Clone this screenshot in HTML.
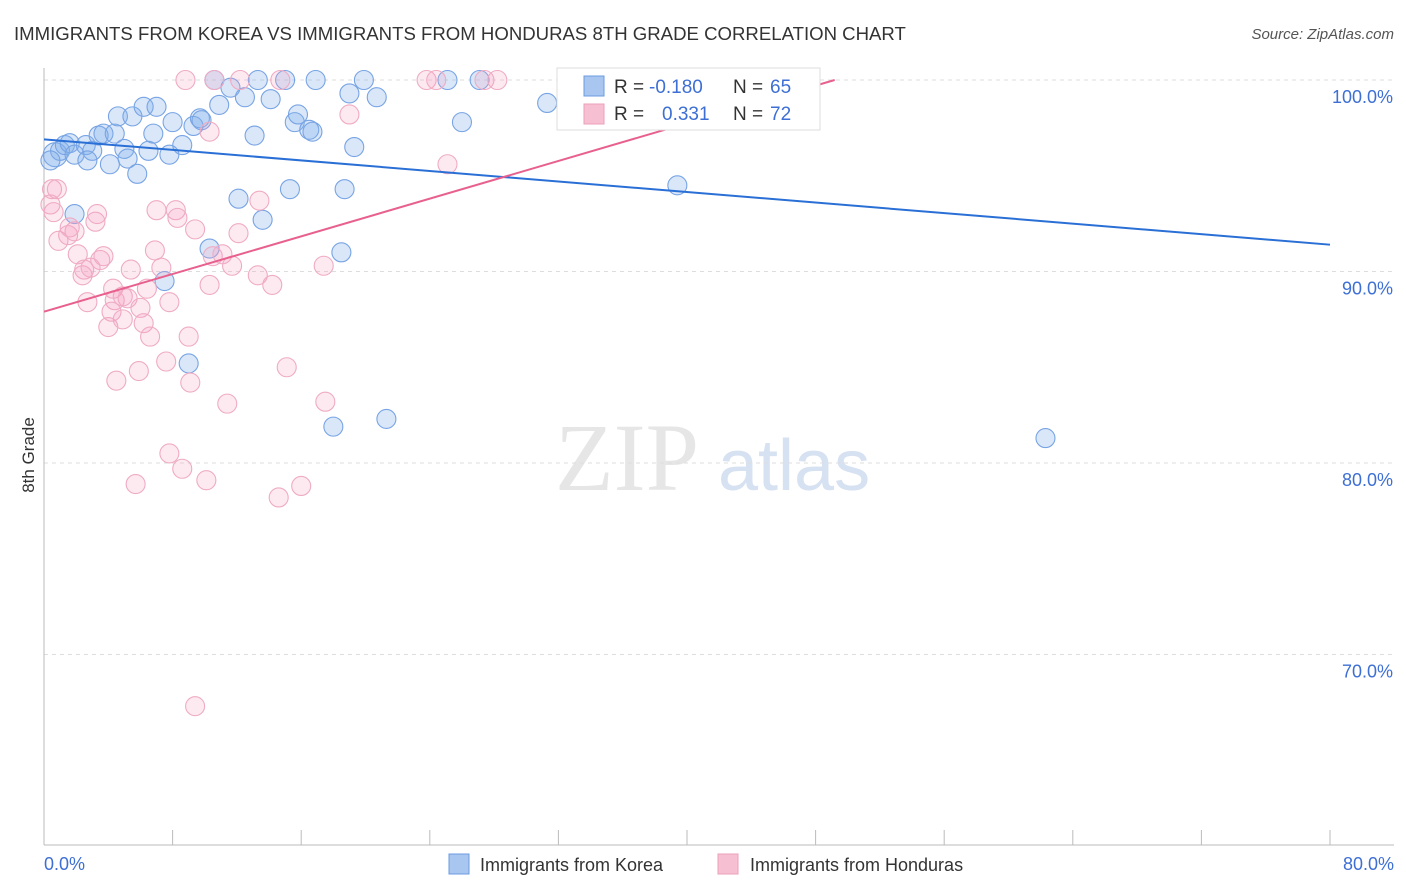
<!DOCTYPE html>
<html><head><meta charset="utf-8"><style>
body{margin:0;background:#fff;font-family:"Liberation Sans",sans-serif;}
svg{display:block}
</style></head><body>
<svg id="chart" width="1406" height="892" xmlns="http://www.w3.org/2000/svg">
<text x="14" y="40" font-size="18.6" fill="#333">IMMIGRANTS FROM KOREA VS IMMIGRANTS FROM HONDURAS 8TH GRADE CORRELATION CHART</text>
<text x="1394" y="39" font-size="15" fill="#555" font-style="italic" text-anchor="end">Source: ZipAtlas.com</text>
<g><text x="555" y="490" font-size="96" font-family="Liberation Serif,serif" fill="#e6e6e6">ZIP</text><text x="718" y="490" font-size="72" fill="#d6e1f2">atlas</text></g>
<g id="grid"></g><g id="axes"></g><g id="pts"></g><g id="lines"></g>
<text transform="translate(34,455) rotate(-90)" font-size="17" fill="#333" text-anchor="middle">8th Grade</text>
<g>
<rect x="557" y="68" width="263" height="62" fill="#fff" stroke="#ddd"/>
<rect x="584" y="76" width="20" height="20" fill="#a8c6f0" stroke="#6b9be0"/>
<rect x="584" y="104" width="20" height="20" fill="#f7c0d2" stroke="#eba0b9"/>
<text x="614" y="93" font-size="19" fill="#333">R =</text>
<text x="649" y="93" font-size="19" fill="#3d6fd4">-0.180</text>
<text x="733" y="93" font-size="19" fill="#333">N =</text>
<text x="770" y="93" font-size="19" fill="#3d6fd4">65</text>
<text x="614" y="120" font-size="19" fill="#333">R =</text>
<text x="662" y="120" font-size="19" fill="#3d6fd4">0.331</text>
<text x="733" y="120" font-size="19" fill="#333">N =</text>
<text x="770" y="120" font-size="19" fill="#3d6fd4">72</text>
</g>
<g>
<rect x="449" y="854" width="20" height="20" fill="#a8c6f0" stroke="#6b9be0"/>
<text x="480" y="871" font-size="18" fill="#333">Immigrants from Korea</text>
<rect x="718" y="854" width="20" height="20" fill="#f7c0d2" stroke="#eba0b9"/>
<text x="750" y="871" font-size="18" fill="#333">Immigrants from Honduras</text>
</g>
</svg>
<script>
const koreaX=[0.7,1.0,1.3,1.6,1.9,2.6,3.0,2.7,3.4,3.7,4.1,4.4,4.6,5.0,5.2,5.5,5.8,6.2,6.5,6.8,7.0,7.8,8.0,8.6,9.3,9.7,9.8,10.3,10.6,10.9,11.6,12.1,12.5,13.1,13.3,13.6,14.1,15.0,15.3,15.6,15.8,16.5,16.7,16.9,18.5,18.7,19.0,19.3,19.9,20.7,21.3,18.0,7.5,9.0,25.1,26.0,27.1,31.3,39.4,62.3,1.9,0.4,41.2];
const koreaY=[96.1,96.3,96.6,96.7,96.1,96.6,96.3,95.8,97.1,97.2,95.6,97.2,98.1,96.4,95.9,98.1,95.1,98.6,96.3,97.2,98.6,96.1,97.8,96.6,97.6,98.0,97.9,91.2,100,98.7,99.6,93.8,99.1,97.1,100,92.7,99.0,100,94.3,97.8,98.2,97.4,97.3,100,91.0,94.3,99.3,96.5,100,99.1,82.3,81.9,89.5,85.2,100,97.8,100,98.8,94.5,81.3,93.0,95.8,100];
const hondX=[8.8,10.6,12.2,14.7,23.8,24.4,27.4,28.2,43.4,10.3,19.0,25.1,0.5,0.8,0.6,0.9,1.5,1.9,1.6,3.2,3.3,2.1,2.5,2.4,3.5,3.7,2.9,5.4,4.3,4.4,2.7,4.0,4.9,5.2,4.2,4.9,6.0,6.2,6.6,6.4,7.0,7.3,7.8,6.9,8.2,8.3,9.4,10.5,11.1,11.7,12.1,13.4,13.3,14.2,10.3,9.0,4.5,5.9,7.6,9.1,11.4,15.1,17.4,17.5,7.8,8.6,10.1,5.7,14.6,16.0,9.4,0.4];
const hondY=[100,100,100,100,100,100,100,100,100,97.3,98.2,95.6,94.3,94.3,93.1,91.6,91.9,92.1,92.3,92.6,93.0,90.9,90.1,89.8,90.6,90.8,90.2,90.1,89.1,88.5,88.4,87.1,88.7,88.6,87.9,87.5,88.1,87.3,86.6,89.1,93.2,90.2,88.4,91.1,93.2,92.8,92.2,90.8,90.9,90.3,92.0,93.7,89.8,89.3,89.3,86.6,84.3,84.8,85.3,84.2,83.1,85.0,90.3,83.2,80.5,79.7,79.1,78.9,78.2,78.8,67.3,93.5];
const koreaTrend=[96.9,91.4];
const hondTrend=[87.9,0.246];
const yTicks=[100,90,80,70];
const xTickLabels=["0.0%","80.0%"];
const NS="http://www.w3.org/2000/svg";
const X=v=>44+v*16.075, Y=v=>80+(100-v)*19.15;
function mk(tag,attrs,parent){const e=document.createElementNS(NS,tag);for(const k in attrs)e.setAttribute(k,attrs[k]);parent.appendChild(e);return e;}
const grid=document.getElementById('grid'),axes=document.getElementById('axes'),pts=document.getElementById('pts'),lines=document.getElementById('lines');
yTicks.forEach(t=>{
 const l=mk('line',{x1:44,x2:1394,y1:Y(t),y2:Y(t),stroke:'#ddd','stroke-dasharray':'4,4'},grid);
 
 
 const tx=mk('text',{x:1393,y:Y(t)+23,'font-size':18,fill:'#3d6fd4','text-anchor':'end'},axes);
 tx.textContent=t.toFixed(1)+'%';
 
 
});
const xl=mk('line',{x1:44,x2:1394,y1:845,y2:845,stroke:'#bbb'},axes);


const yl=mk('line',{x1:44,x2:44,y1:68,y2:845,stroke:'#bbb'},axes);


for(let i=0;i<=10;i++){const t=mk('line',{x1:X(i*8),x2:X(i*8),y1:830,y2:845,stroke:'#bbb'},axes);
 
 }
[[0,xTickLabels[0],'start',44],[80,xTickLabels[1],'end',1394]].forEach(a=>{const t=mk('text',{x:a[3],y:870,'font-size':18,fill:'#3d6fd4','text-anchor':a[2]},axes);t.textContent=a[1];
 
 });
koreaX.forEach((v,i)=>{const c=mk('circle',{cx:X(v),cy:Y(koreaY[i]),r:i===0?12:9.5,fill:'rgba(130,175,235,0.3)',stroke:'#78a4e4','stroke-width':1.1},pts);
 
 });
hondX.forEach((v,i)=>{const c=mk('circle',{cx:X(v),cy:Y(hondY[i]),r:9.5,fill:'rgba(245,160,190,0.22)',stroke:'#efabc3','stroke-width':1.1},pts);
 
 });
const bl=mk('line',{x1:X(0),y1:Y(koreaTrend[0]),x2:X(80),y2:Y(koreaTrend[1]),stroke:'#2a6fd6','stroke-width':2},lines);


const xe=(100-hondTrend[0])/hondTrend[1];
const pl=mk('line',{x1:X(0),y1:Y(hondTrend[0]),x2:X(xe),y2:Y(100),stroke:'#e8608e','stroke-width':2},lines);


</script>
</body></html>
